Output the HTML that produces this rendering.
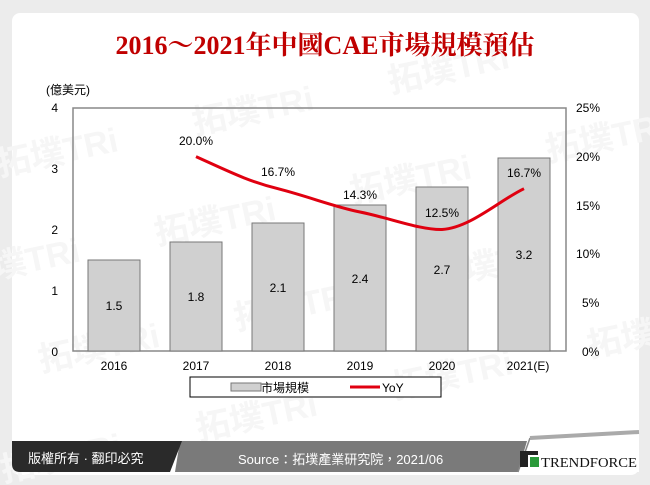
<!DOCTYPE html>
<html><head><meta charset="utf-8"><style>
body{margin:0;width:650px;height:485px;background:#ececec;overflow:hidden;font-family:"Liberation Sans","Noto Sans CJK TC",sans-serif}
</style></head><body>
<svg width="650" height="485" xmlns="http://www.w3.org/2000/svg" style="position:absolute;left:0;top:0">
<rect x="12" y="13" width="627" height="462" rx="8" fill="#fff"/>
<g fill="#f6f6f6" font-size="34" font-weight="bold" font-family="Liberation Sans,Noto Sans CJK TC,sans-serif" transform="rotate(-12 325 240)">
<text x="20" y="110">拓墣TRi</text><text x="220" y="110">拓墣TRi</text><text x="420" y="110">拓墣TRi</text>
<text x="-40" y="210">拓墣TRi</text><text x="160" y="210">拓墣TRi</text><text x="360" y="210">拓墣TRi</text><text x="560" y="210">拓墣TRi</text>
<text x="20" y="310">拓墣TRi</text><text x="220" y="310">拓墣TRi</text><text x="420" y="310">拓墣TRi</text>
<text x="-40" y="410">拓墣TRi</text><text x="160" y="410">拓墣TRi</text><text x="360" y="410">拓墣TRi</text><text x="560" y="410">拓墣TRi</text>
</g>
<text x="325" y="54" text-anchor="middle" font-family="Liberation Serif,Noto Serif CJK SC,serif" font-weight="bold" font-size="26" fill="#c00000">2016～2021年中國CAE市場規模預估</text>
<text x="46" y="94" font-size="12" fill="#000">(億美元)</text>
<rect x="73" y="108" width="493" height="243" fill="none" stroke="#888" stroke-width="1.5"/>
<g font-size="12" fill="#000" text-anchor="end">
<text x="58" y="112">4</text><text x="58" y="173">3</text><text x="58" y="234">2</text><text x="58" y="295">1</text><text x="58" y="356">0</text>
</g>
<g font-size="12" fill="#000" text-anchor="start">
<text x="576" y="112">25%</text><text x="576" y="161">20%</text><text x="576" y="210">15%</text><text x="576" y="258">10%</text><text x="582" y="307">5%</text><text x="582" y="356">0%</text>
</g>
<g fill="#d0d0d0" stroke="#777" stroke-width="1">
<rect x="88" y="260" width="52" height="91"/>
<rect x="170" y="242" width="52" height="109"/>
<rect x="252" y="223" width="52" height="128"/>
<rect x="334" y="205" width="52" height="146"/>
<rect x="416" y="187" width="52" height="164"/>
<rect x="498" y="158" width="52" height="193"/>
</g>
<g font-size="12" fill="#000" text-anchor="middle">
<text x="114" y="310">1.5</text><text x="196" y="301">1.8</text><text x="278" y="292">2.1</text><text x="360" y="283">2.4</text><text x="442" y="274">2.7</text><text x="524" y="259">3.2</text>
<text x="114" y="370">2016</text><text x="196" y="370">2017</text><text x="278" y="370">2018</text><text x="360" y="370">2019</text><text x="442" y="370">2020</text><text x="528" y="370">2021(E)</text>
</g>
<path d="M196 156.6 C230 172 250 182 278 188.7 C310 197 335 207 360 212 C390 218 420 230 442 229.5 C470 228 500 200 524 188.7" fill="none" stroke="#e00010" stroke-width="3"/>
<g font-size="12" fill="#000" text-anchor="middle">
<text x="196" y="145">20.0%</text><text x="278" y="176">16.7%</text><text x="360" y="199">14.3%</text><text x="442" y="217">12.5%</text><text x="524" y="177">16.7%</text>
</g>
<rect x="190" y="377" width="251" height="20" fill="#fff" stroke="#000" stroke-width="1"/>
<rect x="231" y="383" width="30" height="8" fill="#d0d0d0" stroke="#777"/>
<text x="261" y="392" font-size="12">市場規模</text>
<line x1="350" y1="387" x2="380" y2="387" stroke="#e00010" stroke-width="3"/>
<text x="382" y="392" font-size="12">YoY</text>
<polygon points="515,472 528,440 639,440 639,472" fill="#fff"/>
<polygon points="175,472 180,441 527,441 518,472" fill="#7a7a7a"/>
<path d="M12 441 L182 441 L170 472 L20 472 Q12 472 12 464Z" fill="#2a2a2a"/>
<line x1="518" y1="472" x2="530" y2="438" stroke="#888" stroke-width="1.5"/>
<line x1="530" y1="438" x2="639" y2="432" stroke="#aaa" stroke-width="4"/>
<text x="28" y="463" font-size="13" fill="#fff">版權所有 · 翻印必究</text>
<text x="238" y="464" font-size="13" fill="#fff">Source：拓墣產業研究院，2021/06</text>
<rect x="520" y="451" width="8" height="16" fill="#222"/><rect x="520" y="451" width="18" height="4" fill="#222"/>
<rect x="530" y="457" width="9" height="10" fill="#2a9a3a"/>
<text x="541" y="467" font-family="Liberation Serif,serif" font-size="14" fill="#111" textLength="96" lengthAdjust="spacingAndGlyphs">TRENDFORCE</text>
</svg>
</body></html>
